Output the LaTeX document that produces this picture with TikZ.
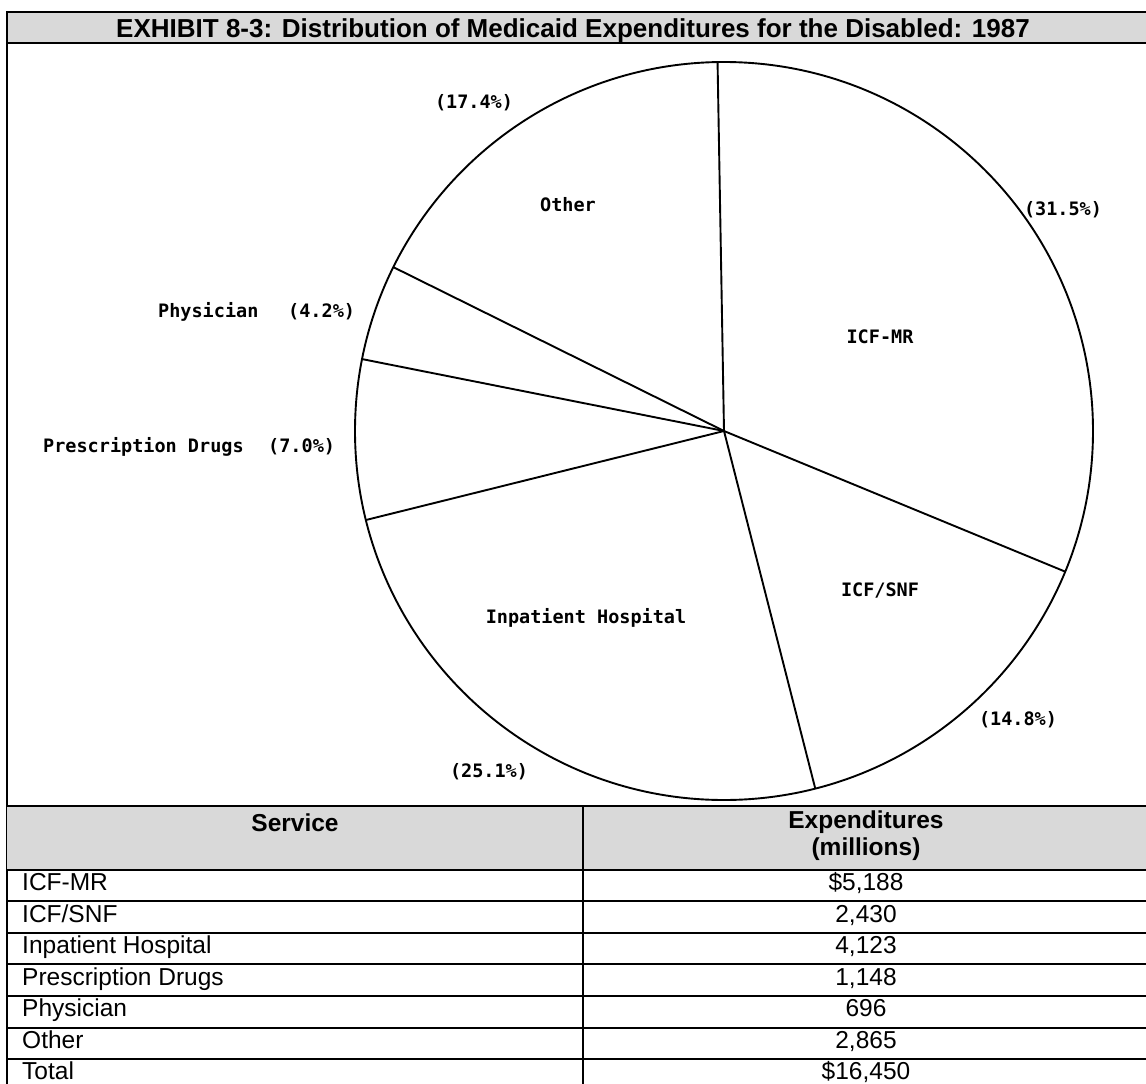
\documentclass[tikz,border=0pt]{standalone}
\usepackage{fontspec}
\setmainfont{Liberation Sans}
\newfontfamily\piefont{DejaVu Sans Mono}
\definecolor{bandgray}{RGB}{217,217,217}
\begin{document}
\begin{tikzpicture}[x=1pt,y=-1pt,
  frame/.style={line width=2.5pt},
  rule/.style={line width=1.3pt},
  spoke/.style={line width=1.9pt},
  pielabel/.style={font=\piefont\bfseries\fontsize{18.5}{20}\selectfont, inner sep=0pt},
  cell/.style={font=\fontsize{24.5}{26}\selectfont, inner sep=0pt},
  headcell/.style={font=\bfseries\fontsize{24.5}{27}\selectfont, inner sep=0pt, align=center}]
\useasboundingbox (0,0) rectangle (1146,1084);
% title band
\fill[bandgray] (7,12) rectangle (1150,43);
\draw[frame] (1150,12) -- (7,12) -- (7,1090);
\draw[frame] (7,43) -- (1150,43);
\node[font=\bfseries\fontsize{26}{28}\selectfont, inner sep=0pt, anchor=base] (title) at (573,37) {EXHIBIT 8-3: Distribution of Medicaid Expenditures for the Disabled: 1987};
% pie
\coordinate (ctr) at (724,431);
\draw[spoke] (ctr) circle[radius=369];
\foreach \a in {-91,22.4,75.68,166.04,191.24,206.36}
  \draw[spoke] (ctr) -- ++(\a:369);
\node[pielabel] (pctother) at (474,103) {(17.4\%)};
\node[pielabel] (other) at (568,205) {Other};
\node[pielabel] (pctmr) at (1063,210) {(31.5\%)};
\node[pielabel] (icfmr) at (880,337) {ICF-MR};
\node[pielabel, anchor=west] (phys) at (158,312) {Physician};
\node[pielabel, anchor=west] (pctphys) at (288,312) {(4.2\%)};
\node[pielabel, anchor=west] (drugs) at (43,447) {Prescription Drugs};
\node[pielabel, anchor=west] (pctdrugs) at (268,447) {(7.0\%)};
\node[pielabel] (hosp) at (586,618) {Inpatient Hospital};
\node[pielabel] (icfsnf) at (880,590) {ICF/SNF};
\node[pielabel] (pctsnf) at (1018,720) {(14.8\%)};
\node[pielabel] (pcthosp) at (489,772) {(25.1\%)};
% table
\fill[bandgray] (7,806) rectangle (1150,870);
\draw[frame] (7,806) -- (1150,806);
\draw[frame] (7,870) -- (1150,870);
\draw[frame] (583,806) -- (583,1090);
\foreach \y in {901,933,964,996,1028,1059}
  \draw[rule] (7,\y) -- (1150,\y);
\node[headcell, anchor=base] (service) at (295,831) {Service};
\node[headcell, anchor=north] (expend) at (866,811) {Expenditures\\(millions)};
\foreach \svc/\amt [count=\i] in {ICF-MR/{\$5,188}, {ICF/SNF}/{2,430}, Inpatient Hospital/{4,123}, Prescription Drugs/{1,148}, Physician/696, Other/{2,865}, Total/{\$16,450}} {
  \node[cell, anchor=base west] (svc\i) at (22,{859+31.5*\i}) {\svc};
  \node[cell, anchor=base] (amt\i) at (866,{859+31.5*\i}) {\amt};
}
\end{tikzpicture}
\end{document}
